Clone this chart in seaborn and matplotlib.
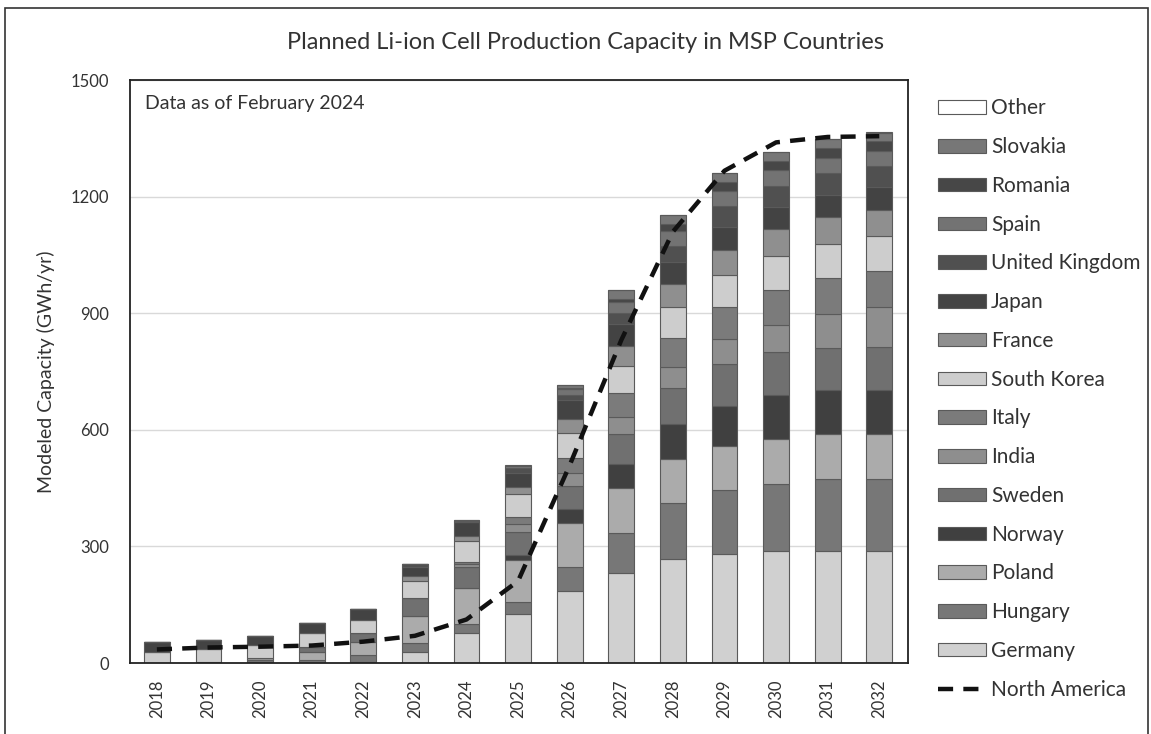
import numpy as np
import pandas as pd
import seaborn as sns
import matplotlib.pyplot as plt
from matplotlib.patches import Patch, Rectangle
from matplotlib.lines import Line2D

years = list(range(2018, 2033))

# stacked from the bottom up (GWh/yr)
Germany = [0, 0, 3, 0, 3, 29, 76, 125, 186, 232, 268, 281, 288, 289, 289]
Hungary = [0, 3, 5, 8, 17, 22, 24, 31, 60, 102, 143, 164, 174, 184, 184]
Poland = [0, 0, 4, 21, 34, 70, 92, 109, 115, 116, 113, 113, 115, 116, 116]
Norway = [0, 0, 0, 0, 0, 0, 0, 13, 35, 62, 91, 103, 113, 113, 113]
Sweden = [0, 0, 0, 11, 23, 47, 54, 60, 60, 77, 94, 108, 110, 110, 111]
India = [0, 0, 0, 0, 0, 0, 10, 20, 34, 43, 53, 64, 69, 87, 103]
Italy = [0, 0, 0, 0, 0, 0, 5, 19, 37, 63, 75, 84, 92, 93, 94]
South_Korea = [29, 32, 34, 36, 34, 44, 54, 58, 66, 70, 80, 82, 86, 86, 88]
France = [0, 0, 0, 0, 0, 12, 12, 19, 35, 51, 58, 64, 69, 71, 69]
Japan = [26, 24, 24, 26, 29, 24, 35, 36, 50, 56, 58, 60, 57, 56, 58]
United_Kingdom = [0, 0, 0, 0, 0, 8, 0, 13, 13, 29, 40, 53, 54, 56, 55]
Spain = [0, 0, 0, 0, 0, 0, 0, 0, 13, 27, 39, 40, 42, 40, 39]
Romania = [0, 0, 0, 0, 0, 0, 3, 0, 5, 9, 18, 23, 24, 24, 25]
Slovakia = [0, 0, 0, 0, 0, 0, 3, 4, 6, 23, 24, 23, 23, 24, 20]
Other = [0, 0, 0, 0, 0, 0, 0, 3, 0, 0, 0, 0, 0, 0, 4]

north_america = [35, 40, 42, 45, 55, 70, 112, 211, 509, 831, 1110, 1267, 1340, 1354, 1356]

countries = ["Other", "Slovakia", "Romania", "Spain", "United Kingdom", "Japan", "France",
             "South Korea", "Italy", "India", "Sweden", "Norway", "Poland", "Hungary", "Germany"]
values = [Other, Slovakia, Romania, Spain, United_Kingdom, Japan, France,
          South_Korea, Italy, India, Sweden, Norway, Poland, Hungary, Germany]
greys = ["#ffffff", "#777777", "#474747", "#737373", "#505050", "#434343", "#8f8f8f",
         "#cdcdcd", "#7b7b7b", "#8e8e8e", "#707070", "#404040", "#ababab", "#777777", "#d0d0d0"]
palette = dict(zip(countries, greys))

rows = []
for c, v in zip(countries, values):
    for y, val in zip(years, v):
        rows.append({"year": y, "country": c, "cap": val})
df = pd.DataFrame(rows)

sns.set_theme(style="white")
plt.rcParams['font.family'] = ['Lato', 'DejaVu Sans']
txt = "#333333"

fig = plt.figure(figsize=(11.51, 7.34), dpi=100)
ax = fig.add_axes([0.113, 0.0967, 0.676, 0.794])

# first hue level ends up on top of the stack
sns.histplot(data=df, x="year", weights="cap", hue="country", hue_order=countries,
             palette=palette, multiple="stack", discrete=True, shrink=0.5,
             alpha=1, edgecolor="#5a5a5a", linewidth=0.8, legend=False, ax=ax)

sns.lineplot(x=years, y=north_america, color="#111111", linewidth=3.2,
             linestyle=(0, (3.4, 2.3)), ax=ax)

ax.set_xlim(2017.48, 2032.56)
ax.set_ylim(0, 1500)
ax.set_yticks(range(0, 1501, 300))
ax.set_xticks(years)
ax.set_xticklabels([str(y) for y in years], rotation=90, fontsize=12, color=txt)
ax.tick_params(axis="y", labelsize=12, colors=txt, pad=9)
ax.tick_params(axis="x", pad=6)
ax.yaxis.grid(True, color="#d9d9d9", linewidth=1)
ax.set_axisbelow(True)
for s in ax.spines.values():
    s.set_color("#222222")
    s.set_linewidth(1.3)
ax.set_xlabel("")
ax.set_ylabel("Modeled Capacity (GWh/yr)", fontsize=14, color=txt, labelpad=11)
ax.text(0.019, 0.975, "Data as of February 2024", transform=ax.transAxes,
        fontsize=14, color=txt, va="top")

fig.suptitle("Planned Li-ion Cell Production Capacity in MSP Countries",
             x=0.509, y=0.957, fontsize=17, color=txt)

handles = [Patch(facecolor=palette[c], edgecolor="#5a5a5a", linewidth=0.8) for c in countries]
handles.append(Line2D([0], [0], color="#111111", linewidth=3.2, linestyle=(0, (3.4, 2.3))))
labels = countries + ["North America"]
fig.legend(handles, labels, loc="upper left", bbox_to_anchor=(0.815, 0.866),
           frameon=False, fontsize=15, handlelength=2.3, handleheight=0.62,
           labelspacing=0.9, handletextpad=0.25, borderpad=0, borderaxespad=0,
           labelcolor=txt)

fig.patches.append(Rectangle((0.004, -0.01), 0.993, 0.999, transform=fig.transFigure,
                             fill=False, edgecolor="#333333", linewidth=1.2))

fig.savefig("out.png", dpi=100)
